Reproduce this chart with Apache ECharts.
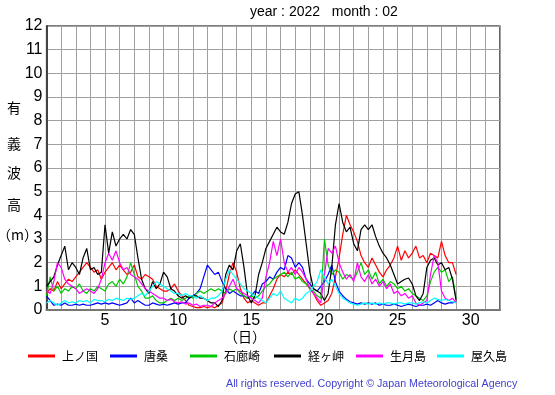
<!DOCTYPE html>
<html><head><meta charset="utf-8">
<script src="https://cdn.jsdelivr.net/npm/echarts@6/dist/echarts.min.js"></script>
<style>html,body{margin:0;padding:0;background:#fff}#c{width:555px;height:395px}</style>
</head><body><div id="c"></div>
<script>
// time axis: values every 0.25 day starting at day 1
const startDay = 1;
const stepDay = 0.25;
const seriesNames = ['上ノ国', '唐桑', '石廊崎', '経ヶ岬', '生月島', '屋久島'];
const xTickLabels = [5, 10, 15, 20, 25, 30];

const kaminokuni = [
  0.7,0.9,0.8,1.2, 0.9,1.1,1.3,1.2, 1.4,1.6,1.8,2.0, 1.8,1.6,1.7,1.3,
  1.6,1.8,2.0,1.7, 1.9,1.7,1.5,1.6, 1.9,1.4,1.3,1.5, 1.4,1.3,1.0,0.9,
  0.8,0.8,0.9,1.1, 0.8,0.6,0.4,0.2, 0.15,0.1,0.1,0.15, 0.1,0.15,0.1,0.2,
  0.3,0.8,1.5,2.0, 1.6,0.9,0.5,0.3, 0.4,0.3,0.2,0.3, 0.3,0.6,0.9,1.3,
  1.5,1.4,1.6,1.5, 1.7,1.5,1.3,1.1, 0.9,0.7,0.4,0.2, 0.3,0.4,0.7,1.4,
  2.2,3.2,4.0,3.6, 3.3,2.9,2.3,2.0, 1.8,2.2,1.9,1.6, 1.4,1.7,1.9,2.2,
  2.7,2.1,2.5,2.2, 2.4,2.7,2.2,2.3, 2.0,2.4,2.3,2.2, 2.9,2.3,2.0,2.0,
  1.5
];
const karakuwa = [
  0.6,0.4,0.2,0.25, 0.2,0.3,0.2,0.2, 0.25,0.2,0.25,0.2, 0.2,0.25,0.3,0.25,
  0.3,0.25,0.3,0.25, 0.2,0.25,0.3,0.5, 0.3,0.4,0.3,0.2, 0.2,0.3,0.25,0.2,
  0.25,0.2,0.25,0.3, 0.25,0.3,0.3,0.5, 0.6,0.7,0.9,1.4, 1.9,1.7,1.5,1.6,
  1.2,0.9,0.7,0.8, 0.7,0.6,0.6,0.5, 0.6,0.8,0.7,1.1, 1.2,1.4,1.3,1.6,
  1.8,1.7,2.3,2.2, 1.8,2.0,1.8,1.3, 1.1,0.9,0.8,1.0, 1.2,1.5,1.9,1.2,
  0.8,0.6,0.45,0.35, 0.3,0.25,0.3,0.25, 0.3,0.25,0.3,0.2, 0.25,0.2,0.2,0.25,
  0.2,0.15,0.2,0.25, 0.2,0.15,0.2,0.2, 0.25,0.2,0.3,0.4, 0.3,0.25,0.3,0.3,
  0.35
];
const irozaki = [
  0.6,1.4,0.8,1.0, 0.7,0.9,0.8,1.0, 0.9,1.1,0.8,0.7, 0.9,0.8,1.0,0.9,
  0.8,1.1,1.2,1.0, 1.3,1.1,1.4,2.0, 1.5,1.0,0.8,0.5, 0.5,0.6,0.4,0.3,
  0.3,0.4,0.5,0.4, 0.5,0.4,0.5,0.6, 0.5,0.7,0.8,0.7, 0.8,0.9,0.8,0.9,
  0.8,0.7,0.9,0.8, 0.9,0.7,0.6,0.5, 0.6,0.5,0.6,0.8, 1.0,1.1,1.3,1.4,
  1.5,1.6,1.4,1.6, 1.3,1.4,1.2,1.1, 0.9,0.8,0.6,0.5, 3.0,1.9,1.5,1.7,
  1.6,1.3,1.5,1.4, 1.3,1.6,2.0,1.5, 1.7,1.3,1.6,1.1, 1.3,1.0,1.2,1.1,
  0.9,1.0,0.8,0.9, 0.7,0.6,0.5,0.4, 0.6,1.2,1.6,1.8, 1.6,1.7,1.2,1.4,
  0.5
];
const kyogamisaki = [
  1.0,1.2,1.4,1.9, 2.3,2.7,1.7,2.0, 1.8,1.5,2.2,2.6, 1.7,1.8,1.5,1.6,
  3.6,2.4,3.3,2.7, 3.0,3.2,3.0,3.4, 3.2,2.2,1.3,0.9, 0.7,1.2,0.9,1.1,
  1.6,1.4,0.9,0.8, 0.6,0.5,0.6,0.5, 0.6,0.6,0.5,0.5, 0.4,0.3,0.3,0.15,
  0.4,1.5,1.9,1.7, 2.5,2.8,1.8,0.6, 0.3,0.6,1.5,2.0, 2.6,2.9,3.2,3.5,
  3.3,3.2,3.7,4.5, 4.9,5.0,4.0,2.8, 1.6,0.9,0.8,0.7, 0.4,0.7,1.8,3.6,
  4.5,3.7,3.3,3.5, 2.8,2.5,3.4,3.6, 3.4,3.6,3.1,2.7, 2.4,2.2,1.9,1.5,
  1.1,1.2,1.3,1.35, 1.1,0.6,0.4,0.7, 1.8,2.1,2.2,1.9, 2.0,1.7,1.8,1.3,
  0.4
];
const ikitsukishima = [
  0.8,0.7,1.2,2.0, 1.8,1.3,1.1,1.0, 0.9,0.7,0.8,0.9, 0.8,0.7,0.9,1.3,
  2.0,2.4,2.1,2.5, 2.0,1.7,1.8,1.5, 1.4,1.3,1.1,0.9, 0.8,0.7,0.6,0.5,
  0.5,0.4,0.45,0.35, 0.3,0.35,0.25,0.3, 0.2,0.25,0.15,0.2, 0.2,0.15,0.3,0.4,
  0.5,0.7,1.0,1.3, 0.9,0.8,0.7,0.6, 0.5,0.4,0.3,0.5, 1.4,2.0,2.9,2.3,
  3.0,2.0,1.6,1.8, 1.5,1.8,1.6,1.3, 0.9,0.7,0.5,0.3, 1.5,2.6,2.4,2.7,
  2.0,1.6,1.3,1.5, 1.2,2.0,1.4,1.2, 1.5,1.1,1.3,1.0, 1.2,0.9,1.1,0.7,
  0.8,0.6,0.7,0.5, 0.6,0.3,0.2,0.3, 0.4,1.5,2.3,2.0, 0.8,0.5,0.4,0.5,
  0.3
];
const yakushima = [
  0.3,0.4,0.3,0.2, 0.3,0.4,0.3,0.35, 0.3,0.4,0.35,0.4, 0.3,0.45,0.4,0.4,
  0.35,0.45,0.4,0.5, 0.45,0.4,0.5,0.45, 0.5,0.6,0.7,0.6, 0.8,1.0,1.2,1.1,
  1.0,0.9,0.8,0.7, 0.7,0.6,0.7,0.6, 0.6,0.5,0.6,0.5, 0.4,0.5,0.5,0.6,
  0.8,1.3,1.7,1.5, 1.3,1.1,0.9,0.8, 0.7,0.6,0.5,0.4, 0.3,0.5,0.7,0.6,
  0.8,0.5,0.4,0.3, 0.5,0.4,0.5,0.7, 0.8,1.0,1.2,1.7, 1.4,1.1,1.3,1.0,
  0.7,0.5,0.4,0.3, 0.25,0.2,0.25,0.3, 0.25,0.3,0.25,0.3, 0.25,0.3,0.3,0.25,
  0.3,0.3,0.25,0.3, 0.3,0.25,0.3,0.35, 0.3,0.4,0.5,0.45, 0.4,0.45,0.4,0.35,
  0.3
];

const allValues = [kaminokuni, karakuwa, irozaki, kyogamisaki, ikitsukishima, yakushima];
const colors = ['#ff0000', '#0000ff', '#00c800', '#000000', '#ff00ff', '#00ffff'];
const legendLeft = [28, 110, 190, 274, 356, 437];

function toPairs(vals) {
  return vals.map((v, i) => [startDay + i * stepDay, v]);
}

const chart = echarts.init(document.getElementById('c'), null, {renderer: 'canvas'});
const fontLatin = 'Liberation Sans, Arial, sans-serif';
const fontCJK = '"Noto Sans CJK JP", sans-serif';

const option = {
  animation: false,
  backgroundColor: '#fff',
  grid: {left: 46.5, right: 55, top: 26, bottom: 85, show: true, borderColor: '#000', borderWidth: 1.2, backgroundColor: 'transparent'},
  xAxis: {
    type: 'value', min: 1, max: 32, interval: 1,
    axisLine: {show: true, onZero: false, lineStyle: {color: '#777', width: 2}},
    axisTick: {show: false},
    axisLabel: {
      show: true, margin: 3, fontSize: 16, color: '#000', fontFamily: fontLatin,
      formatter: v => (xTickLabels.indexOf(v) >= 0 ? String(v) : '')
    },
    splitLine: {show: true, lineStyle: {color: '#a0a0a0', width: 1}}
  },
  yAxis: {
    type: 'value', min: 0, max: 12, interval: 1,
    axisLine: {show: true, lineStyle: {color: '#444', width: 2}},
    axisTick: {show: false},
    axisLabel: {show: true, margin: 4, fontSize: 16, color: '#000', fontFamily: fontLatin},
    splitLine: {show: true, lineStyle: {color: '#a0a0a0', width: 1}}
  },
  legend: seriesNames.map((n, i) => ({
    data: [n], left: legendLeft[i], top: 350, icon: 'rect', itemWidth: 27, itemHeight: 3,
    itemGap: 0, padding: 0, selectedMode: false,
    textStyle: {fontSize: 12, color: '#000', fontFamily: fontCJK, padding: [0, 0, 0, 2]}
  })),
  series: seriesNames.map((n, i) => ({
    name: n, type: 'line', data: toPairs(allValues[i]), showSymbol: false, symbol: 'none',
    color: colors[i], lineStyle: {color: colors[i], width: 1.2}, z: 2 + i
  })),
  graphic: [
    {type: 'text', left: 250, top: 5, style: {text: 'year : 2022   month : 02', font: '14px Liberation Sans, Arial, sans-serif', fill: '#000'}},
    {type: 'text', left: 7, top: 101, style: {text: '有', font: '14px "Noto Sans CJK JP"', fill: '#000'}},
    {type: 'text', left: 7, top: 137, style: {text: '義', font: '14px "Noto Sans CJK JP"', fill: '#000'}},
    {type: 'text', left: 7, top: 166, style: {text: '波', font: '14px "Noto Sans CJK JP"', fill: '#000'}},
    {type: 'text', left: 7, top: 198, style: {text: '高', font: '14px "Noto Sans CJK JP"', fill: '#000'}},
    {type: 'text', left: -3, top: 228, style: {text: '（m）', font: '14px "Noto Sans CJK JP"', fill: '#000'}},
    {type: 'text', left: 224, top: 330, style: {text: '（日）', font: '14px "Noto Sans CJK JP"', fill: '#000'}},
    {type: 'text', left: 226, top: 379, style: {text: 'All rights reserved. Copyright © Japan Meteorological Agency', font: '10.7px Liberation Sans, Arial, sans-serif', fill: '#4040d0'}}
  ]
};
chart.setOption(option);
</script>
</body></html>
